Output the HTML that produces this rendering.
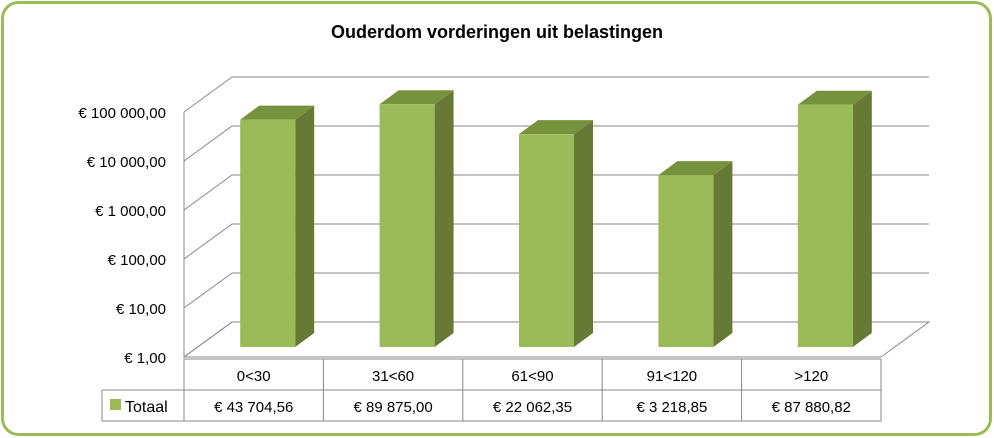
<!DOCTYPE html>
<html><head><meta charset="utf-8"><style>
body{margin:0;background:#fff}
svg{display:block;font-family:"Liberation Sans",Calibri,sans-serif}
</style></head><body>
<svg width="994" height="438" viewBox="0 0 994 438">
<rect x="2.5" y="2.5" width="988" height="432" rx="16" fill="#fff" stroke="#9bbb59" stroke-width="3"/>
<text x="497" y="38" text-anchor="middle" font-size="18" font-weight="bold" fill="#000">Ouderdom vorderingen uit belastingen</text>
<g id="grid"></g>
<g id="bars"></g>
<g id="table"></g>
</svg>
<script>
const categories=["0<30","31<60","61<90","91<120",">120"];
const values=[43704.56,89875.00,22062.35,3218.85,87880.82];
const valueLabels=["€ 43 704,56","€ 89 875,00","€ 22 062,35","€ 3 218,85","€ 87 880,82"];
const tickLabels=["€  1,00","€  10,00","€  100,00","€ 1 000,00","€ 10 000,00","€ 100 000,00"];
const seriesName="Totaal";
const NS="http://www.w3.org/2000/svg";
const X0=184,X1=881,Y0=357,DEC=49,DX=48,DY=-35,BDX=14,BDY=-10;
function yFront(v){return Y0-DEC*Math.log10(v);}
function catX(i){return X0+(X1-X0)/categories.length*(i+0.5);}
function mk(tag,attrs,parent){const e=document.createElementNS(NS,tag);for(const k in attrs)e.setAttribute(k,attrs[k]);parent.appendChild(e);return e;}
const grid=document.getElementById('grid');
const g1=mk('path',{d:`M${X0},${Y0} L${X0+DX},${Y0+DY} L${X1+DX},${Y0+DY} L${X1},${Y0} Z`,fill:'none',stroke:'#888','stroke-width':1},grid);


tickLabels.forEach((t,k)=>{
  const y=yFront(Math.pow(10,k));
  const l=mk('path',{d:`M${X0},${y} L${X0+DX},${y+DY} L${X1+DX},${y+DY}`,fill:'none',stroke:'#888','stroke-width':1},grid);
  
  
  const tx=mk('text',{x:166,y:y+6,'text-anchor':'end','font-size':15,fill:'#000'},grid);
  tx.textContent=t;
  
  
});
const wall=mk('line',{x1:X0,y1:Y0,x2:X0,y2:yFront(1e5),stroke:'#888'},grid);


const bars=document.getElementById('bars');
const BW=55,BD=19,BDD=-14;
values.forEach((v,i)=>{
  const cx=catX(i)+BDX, l=cx-BW/2, r=cx+BW/2, b=Y0+BDY, t=yFront(v)+BDY;
  const g=mk('g',{},bars);
  
  
  mk('path',{d:`M${r},${b} L${r+BD},${b+BDD} L${r+BD},${t+BDD} L${r},${t} Z`,fill:'#677a35'},g);
  mk('path',{d:`M${l},${t} L${l+BD},${t+BDD} L${r+BD},${t+BDD} L${r},${t} Z`,fill:'#76923c'},g);
  mk('rect',{x:l,y:t,width:BW,height:b-t,fill:'#9bbb59'},g);
});
const tb=document.getElementById('table');
const R0=359,R1=390,R2=421,LX=102;
mk('path',{d:`M${X0},${R0} L${X1},${R0} M${LX},${R1} L${X1},${R1} M${LX},${R2} L${X1},${R2} M${LX},${R1} L${LX},${R2}`,stroke:'#888',fill:'none'},tb);
const cw=(X1-X0)/categories.length;
for(let i=0;i<=categories.length;i++){const x=X0+cw*i;mk('line',{x1:x,y1:R0,x2:x,y2:R2,stroke:'#888'},tb);}
categories.forEach((c,i)=>{
  const t=mk('text',{x:catX(i),y:R0+22,'text-anchor':'middle','font-size':15},tb);
  t.textContent=c;
  
  
  const t2=mk('text',{x:catX(i),y:R1+22,'text-anchor':'middle','font-size':15},tb);
  t2.textContent=valueLabels[i];
  
  
});
const key=mk('rect',{x:110,y:399,width:11,height:11,fill:'#9bbb59'},tb);


const lt=mk('text',{x:125,y:R1+22,'font-size':16},tb);
lt.textContent=seriesName;


</script>
</body></html>
